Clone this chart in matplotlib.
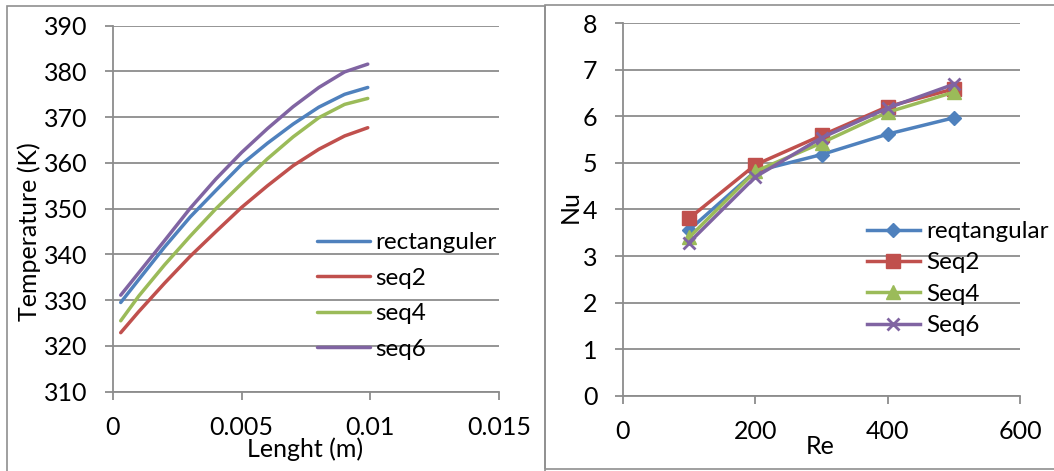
import matplotlib
matplotlib.use("Agg")
import matplotlib.pyplot as plt
from matplotlib.patches import Rectangle

# ---- data: temperature along the channel length ----
length_m = [0.0003, 0.001, 0.002, 0.003, 0.004, 0.005, 0.006, 0.007, 0.008, 0.009, 0.0099]
temp_rect = [329.5, 334.5, 341.6, 348.2, 354.0, 359.7, 364.3, 368.5, 372.2, 375.0, 376.5]
temp_seq2 = [322.9, 327.5, 333.7, 339.6, 345.0, 350.3, 355.0, 359.4, 363.0, 365.9, 367.7]
temp_seq4 = [325.5, 330.9, 337.7, 344.0, 350.0, 355.5, 360.9, 365.7, 369.9, 372.8, 374.1]
temp_seq6 = [331.1, 336.0, 343.0, 350.1, 356.5, 362.3, 367.5, 372.3, 376.5, 379.9, 381.6]
temp_names = ["rectanguler", "seq2", "seq4", "seq6"]

# ---- data: Nusselt number vs Reynolds number ----
re_vals = [100, 200, 300, 400, 500]
nu_rect = [3.56, 4.82, 5.18, 5.62, 5.97]
nu_seq2 = [3.81, 4.96, 5.59, 6.21, 6.59]
nu_seq4 = [3.40, 4.82, 5.43, 6.09, 6.52]
nu_seq6 = [3.29, 4.70, 5.54, 6.18, 6.69]
nu_names = ["reqtangular", "Seq2", "Seq4", "Seq6"]

colors = ["#4F81BD", "#C0504D", "#9BBB59", "#8064A2"]
grid_c = "#8c8c8c"
FS = 18
FS_LEG = 17.5

plt.rcParams["font.family"] = ["Lato", "DejaVu Sans"]

W, H = 1054, 471
fig = plt.figure(figsize=(W / 100, H / 100), dpi=100)


def fx(px):
    return px / W


def fy(py):
    return 1 - py / H


# panel frames
fig.patches.append(Rectangle((fx(7), fy(480)), fx(545) - fx(7), fy(6) - fy(480),
                             transform=fig.transFigure, fill=False,
                             edgecolor="#8f8f8f", lw=1.2))
fig.patches.append(Rectangle((fx(545), fy(469)), fx(1070) - fx(545), fy(4.5) - fy(469),
                             transform=fig.transFigure, fill=False,
                             edgecolor="#8f8f8f", lw=1.2))


def style_axes(ax):
    for s in ("top", "right"):
        ax.spines[s].set_visible(False)
    for s in ("left", "bottom"):
        ax.spines[s].set_color(grid_c)
        ax.spines[s].set_linewidth(1.3)
    ax.grid(axis="y", color=grid_c, lw=1.3)
    ax.set_axisbelow(True)
    ax.tick_params(axis="both", length=5.5, width=1.3, color=grid_c,
                   labelsize=FS, direction="out")
    ax.tick_params(axis="y", pad=13)
    ax.tick_params(axis="x", pad=12)


# ---- left: temperature ----
axL = fig.add_axes([fx(113), fy(391.7), fx(499) - fx(113), fy(25.7) - fy(391.7)])
for ys, c, n in zip([temp_rect, temp_seq2, temp_seq4, temp_seq6], colors, temp_names):
    axL.plot(length_m, ys, color=c, lw=2.5, label=n, solid_capstyle="round",
             solid_joinstyle="round")
axL.set_xlim(0, 0.015)
axL.set_ylim(310, 390)
axL.set_xticks([0, 0.005, 0.01, 0.015])
axL.set_xticklabels(["0", "0.005", "0.01", "0.015"])
axL.set_yticks(range(310, 391, 10))
style_axes(axL)
fig.text(fx(29), fy(232), "Temperature (K)", rotation=90, ha="center", va="center", fontsize=FS)
fig.text(fx(305), fy(449), "Lenght (m)", ha="center", va="center", fontsize=FS)
axL.legend(loc="upper left", bbox_to_anchor=(fx(317), fy(232)), bbox_transform=fig.transFigure,
           frameon=False, fontsize=FS_LEG, handlelength=2.18, handletextpad=0.2,
           labelspacing=0.6, borderpad=0, borderaxespad=0)

# ---- right: Nusselt number ----
axR = fig.add_axes([fx(623), fy(395.7), fx(1020) - fx(623), fy(23.3) - fy(395.7)])
markers = [("D", 7, 1), ("s", 10, 1), ("^", 10, 1), ("x", 9, 2)]
for ys, c, n, (m, ms, mew) in zip([nu_rect, nu_seq2, nu_seq4, nu_seq6], colors, nu_names, markers):
    axR.plot(re_vals, ys, color=c, lw=2.5, label=n, marker=m, markersize=ms,
             markeredgewidth=mew, markeredgecolor=c, markerfacecolor=c)
axR.set_xlim(0, 600)
axR.set_ylim(0, 8)
axR.set_xticks([0, 200, 400, 600])
axR.set_yticks(range(0, 9))
style_axes(axR)
fig.text(fx(570), fy(207), "Nu", rotation=90, ha="center", va="center", fontsize=FS)
fig.text(fx(820), fy(446), "Re", ha="center", va="center", fontsize=FS)
axR.legend(loc="upper left", bbox_to_anchor=(fx(867), fy(221)), bbox_transform=fig.transFigure,
           frameon=False, fontsize=FS_LEG, handlelength=2.18, handletextpad=0.25,
           labelspacing=0.43, borderpad=0, borderaxespad=0)

fig.savefig("out.png", dpi=100)
